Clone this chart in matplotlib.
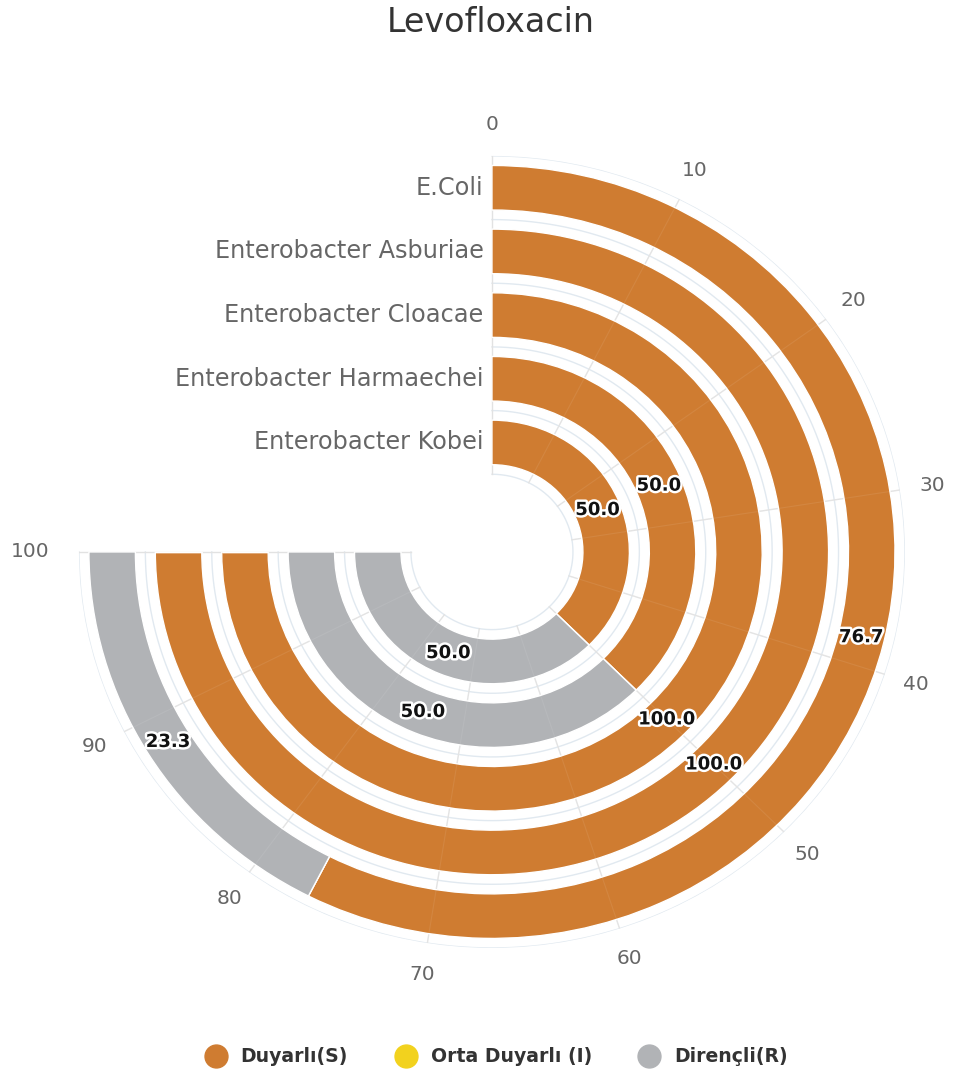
import numpy as np
import matplotlib
matplotlib.use("Agg")
import matplotlib.pyplot as plt
import matplotlib.patheffects as pe
from matplotlib.lines import Line2D

# ---- data -------------------------------------------------------------
categories = ["E.Coli", "Enterobacter Asburiae", "Enterobacter Cloacae",
              "Enterobacter Harmaechei", "Enterobacter Kobei"]
susceptible = [76.7, 100.0, 100.0, 50.0, 50.0]    # Duyarlı(S)
intermediate = [0.0, 0.0, 0.0, 0.0, 0.0]          # Orta Duyarlı (I)
resistant = [23.3, 0.0, 0.0, 50.0, 50.0]          # Dirençli(R)
series_names = ["Duyarlı(S)", "Orta Duyarlı (I)", "Dirençli(R)"]
angle_ticks = list(range(0, 101, 10))

# ---- style ------------------------------------------------------------
colors = ["#CF7C31", "#F2D21E", "#B1B3B6"]
label_gray = "#666666"
grid_col = "#e1e9f0"

plt.rcParams["font.family"] = ["DejaVu Sans"]

fig = plt.figure(figsize=(9.56, 10.85), dpi=100)
ax = fig.add_axes([0.0826, 0.1263, 0.864, 0.730], projection="polar")
ax.set_aspect("auto")
ax.set_theta_zero_location("N")
ax.set_theta_direction(-1)

full_sweep = 1.5 * np.pi          # 0..100 spans three quarters of a turn
to_theta = full_sweep / 100.0
inner = 1.72                      # radial position of the innermost category
band = 0.70
r_min = inner - 0.5
r_max = inner + len(categories) - 0.5
ax.set_ylim(0, r_max)
ax.set_xticks([])
ax.set_yticks([])
ax.grid(False)
ax.spines["polar"].set_visible(False)

n = len(categories)
radii = [inner + (n - 1 - i) for i in range(n)]

# grid: category boundary arcs and value spokes
arc = np.linspace(0, full_sweep, 400)
for k in range(n + 1):
    ax.plot(arc, np.full_like(arc, r_min + k), color=grid_col, lw=1, zorder=0.5)
for t in angle_ticks:
    th = t * to_theta
    ax.plot([th, th], [r_min, r_max], color="#e2e2e2", lw=1, zorder=0.5)

# stacked radial bars
left = np.zeros(n)
for name, vals, col in zip(series_names, [susceptible, intermediate, resistant], colors):
    vals = np.asarray(vals)
    ax.barh(radii, vals * to_theta, left=left * to_theta, height=band,
            color=col, edgecolor="white", linewidth=1.0, zorder=2)
    for r, v, l0 in zip(radii, vals, left):
        if v > 0:
            ax.text((l0 + v / 2) * to_theta, r, f"{v:.1f}", ha="center", va="center",
                    fontsize=13, fontweight="bold", color="#111111", zorder=5,
                    path_effects=[pe.withStroke(linewidth=3.5, foreground="white")])
    left = left + vals

# faint spokes over the bars
for t in angle_ticks[1:-1]:
    th = t * to_theta
    ax.plot([th, th], [r_min, r_max], color="white", lw=0.8, alpha=0.08, zorder=3)

# category labels along the zero spoke
for r, name in zip(radii, categories):
    ax.annotate(name, xy=(0, r), xytext=(-6, 0), textcoords="offset points",
                ha="right", va="center", fontsize=17.3, color=label_gray)

# value tick labels around the outside
for t in angle_ticks:
    th = t * to_theta
    rr = 6.72 + (0.24 if t == 100 else 0.0)
    ax.text(th, rr, str(t), ha="center", va="center", fontsize=14.5, color=label_gray)

fig.text(0.513, 0.979, "Levofloxacin", ha="center", va="center",
         fontsize=24, color="#333333")

handles = [Line2D([], [], marker="o", linestyle="none", markersize=16.5,
                  markerfacecolor=c, markeredgecolor=c) for c in colors]
fig.legend(handles, series_names, loc="center", bbox_to_anchor=(0.515, 0.026),
           ncol=3, frameon=False, handletextpad=0.32, columnspacing=2.05,
           prop={"family": "DejaVu Sans", "weight": "bold", "size": 13.6},
           labelcolor="#333333")

fig.savefig("out.png", dpi=100, facecolor="white")
